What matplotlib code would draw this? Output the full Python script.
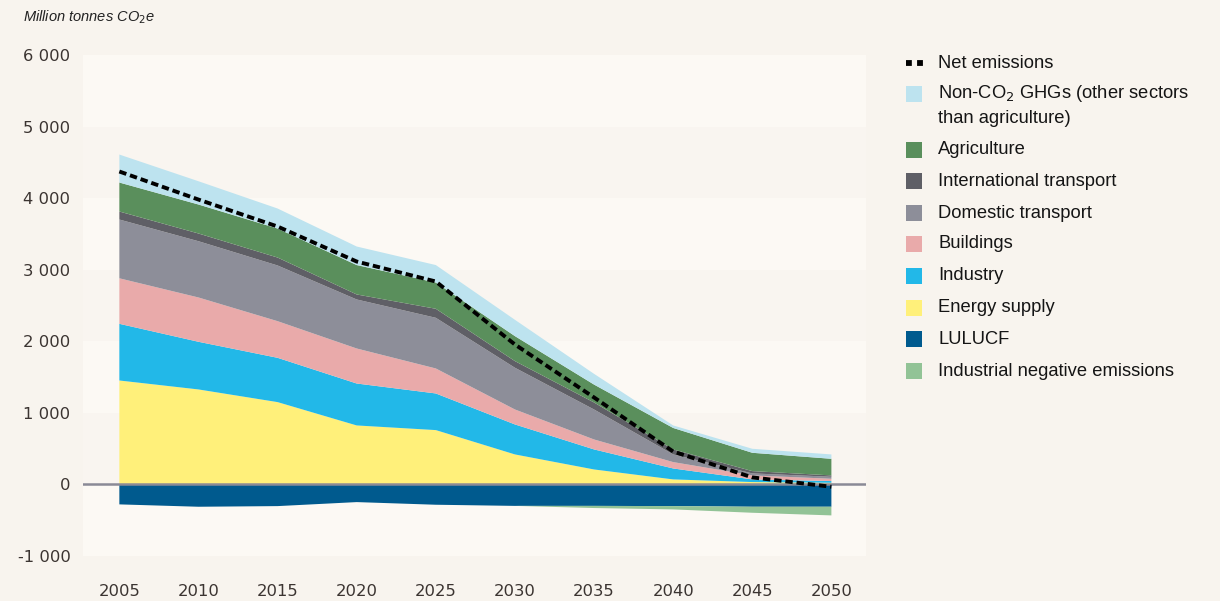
import matplotlib.pyplot as plt
from matplotlib.patches import Rectangle
from matplotlib.lines import Line2D

years = [2005, 2010, 2015, 2020, 2025, 2030, 2035, 2040, 2045, 2050]

energy = [1452, 1327, 1150, 824, 759, 419, 209, 70, 33, 23]
industry = [792, 666, 619, 586, 512, 419, 280, 153, 37, 24]
buildings = [636, 619, 512, 489, 349, 209, 139, 89, 56, 32]
domestic = [821, 786, 778, 685, 708, 583, 419, 107, 28, 28]
international = [112, 108, 111, 70, 126, 93, 98, 70, 32, 19]
agriculture = [405, 405, 405, 411, 367, 349, 250, 300, 256, 232]
non_co2 = [391, 325, 280, 259, 244, 228, 150, 35, 56, 61]
lulucf = [-279, -312, -303, -247, -284, -300, -300, -303, -312, -312]
ind_negative = [0, 0, 0, 0, 0, 0, -30, -46, -84, -121]
net = [4372, 3980, 3603, 3114, 2835, 1955, 1215, 460, 98, -33]

labels = ["Net emissions", "Non-CO$_2$ GHGs (other sectors\nthan agriculture)",
          "Agriculture", "International transport", "Domestic transport",
          "Buildings", "Industry", "Energy supply", "LULUCF",
          "Industrial negative emissions"]
colors = ["#bde3ef", "#5a8f5c", "#5f5f66", "#8d8e99", "#e9aaaa",
          "#22b8e8", "#fff07a", "#005a8e", "#92c396"]

bg = "#f8f4ee"
fig = plt.figure(figsize=(12.2, 6.01), dpi=100, facecolor=bg)
ax = fig.add_axes([0.068, 0.0749, 0.642, 0.8336])
ax.set_facecolor(bg)

# alternating horizontal bands
for i, lo in enumerate(range(5000, -2000, -1000)):
    c = "#fcf9f4" if i % 2 == 0 else "#f9f5f0"
    ax.axhspan(lo, lo + 1000, xmin=0, xmax=1, color=c, lw=0, zorder=0)

ax.stackplot(years, energy, industry, buildings, domestic, international,
             agriculture, non_co2,
             colors=[colors[6], colors[5], colors[4], colors[3], colors[2],
                     colors[1], colors[0]], lw=0, zorder=2)
ax.stackplot(years, lulucf, ind_negative, colors=[colors[7], colors[8]],
             lw=0, zorder=2)
ax.axhline(0, color="#8a8a96", lw=1.8, zorder=3)
ax.plot(years, net, color="black", lw=2.8, linestyle=(0, (1.9, 1.0)),
        zorder=4)

ax.set_xlim(2002.7, 2052.2)
ax.set_ylim(-1000, 6000)
ax.set_xticks(years)
ax.set_xticklabels([str(y) for y in years])
yt = list(range(-1000, 7000, 1000))
ax.set_yticks(yt)
ax.set_yticklabels(["{:,}".format(v).replace(",", " ") for v in yt])
ax.tick_params(length=0, labelsize=11.8, colors="#3b3431")
ax.tick_params(axis="x", pad=20)
ax.tick_params(axis="y", pad=9)
for s in ax.spines.values():
    s.set_visible(False)

fig.text(23 / 1220, 1 - 17 / 601, "Million tonnes CO$_2$e", fontsize=10.5,
         style="italic", family="Liberation Sans", color="#222222",
         va="center", ha="left")

# legend drawn by hand
W, H = 1220, 601
rows = [63, 94, 150, 181, 213, 244, 276, 308, 339, 371]
for k, (lab, yc) in enumerate(zip(labels, rows)):
    if k == 0:
        fig.add_artist(Line2D([906 / W, 923 / W], [1 - yc / H] * 2,
                              color="black", lw=4.2,
                              linestyle=(0, (1.0, 0.9)),
                              transform=fig.transFigure))
    else:
        fig.add_artist(Rectangle((906 / W, 1 - (yc + 8) / H), 16 / W, 16 / H,
                                 color=colors[k - 1], lw=0,
                                 transform=fig.transFigure))
    fig.text(938 / W, 1 - yc / H, lab.split("\n")[0], fontsize=13.2,
             family="Liberation Sans", color="#151515", va="center",
             ha="left")
    if "\n" in lab:
        fig.text(938 / W, 1 - (yc + 24) / H, lab.split("\n")[1],
                 fontsize=13.2, family="Liberation Sans", color="#151515",
                 va="center", ha="left")

fig.savefig("out.png", dpi=100, facecolor=bg)
